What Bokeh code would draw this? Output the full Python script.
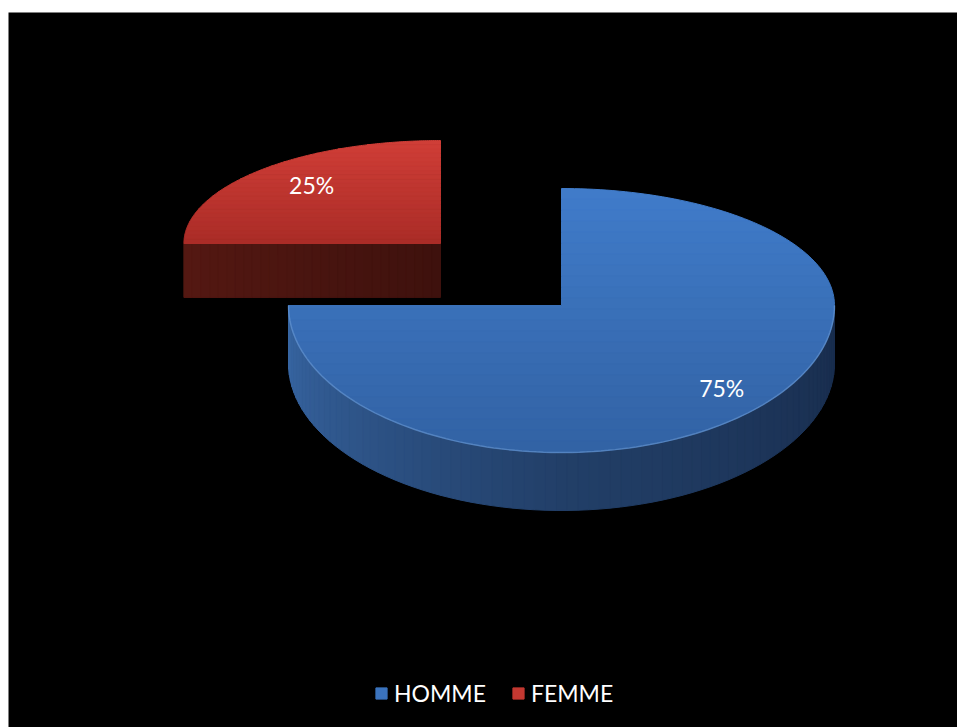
import numpy as np
from bokeh.plotting import figure
from bokeh.models import Range1d, Legend, LegendItem, ColumnDataSource
from bokeh.embed import file_html
from bokeh.resources import INLINE
from bokeh.core.properties import value

# ---------------- data ----------------
categories = ["HOMME", "FEMME"]
values = [75, 25]
exploded = [False, True]

# ---------------- style ----------------
TOP_COLORS = {"HOMME": ((64, 124, 202), (50, 98, 164)),
              "FEMME": ((208, 62, 55), (170, 44, 39))}
SIDE_COLORS = {"HOMME": ((56, 102, 164), (34, 63, 104), (24, 44, 76)),
               "FEMME": ((84, 24, 18), (74, 21, 16), (62, 17, 13))}
RIM_COLORS = {"HOMME": "#6f9fd8", "FEMME": "#e0605a"}

CX, CY = 561, 305          # pie centre (screen px)
RX, RY_BACK, RY_FRONT = 273, 117, 147
DEPTH = 58
EXPLODE_DX, EXPLODE_DY = 121, 62   # offset of an exploded slice along its mid angle
SHRINK = (0.94, 0.88, 0.93)        # perspective shrink of exploded slice (rx, ry, depth)
LABEL_FRAC = {"HOMME": (0.83, 0.79), "FEMME": (0.71, 0.81)}
FONT = "Lato"

W, H = 957, 727
p = figure(width=W, height=H, output_backend="svg", toolbar_location=None,
           x_range=Range1d(8, W), y_range=Range1d(H, 12),
           x_axis_type=None, y_axis_type=None, min_border=0,
           min_border_left=8, min_border_top=12,
           background_fill_color="black", border_fill_color="white",
           outline_line_color=None)
p.grid.visible = False


def mix(c0, c1, f):
    c = [int(round(a + (b - a) * f)) for a, b in zip(c0, c1)]
    return "#%02x%02x%02x" % tuple(c)


def point(theta, cx, cy, rx, ryb, ryf):
    t = np.radians(theta)
    c = np.cos(t)
    ry = np.where(c > 0, ryb, ryf)
    return cx + rx * np.sin(t), cy - ry * c


def clip_half(poly, yc, keep_below):
    out = []
    n = len(poly)
    inside = (lambda q: q[1] >= yc) if keep_below else (lambda q: q[1] <= yc)
    for i in range(n):
        a, b = poly[i], poly[(i + 1) % n]
        ia, ib = inside(a), inside(b)
        if ia:
            out.append(a)
        if ia != ib:
            f = (yc - a[1]) / (b[1] - a[1])
            out.append((a[0] + f * (b[0] - a[0]), yc))
    return out


total = float(sum(values))
start = 0.0
legend_items = []
draw_later = []
for cat, v, ex in zip(categories, values, exploded):
    a0 = start
    a1 = start + 360.0 * v / total
    start = a1
    mid = (a0 + a1) / 2.0
    cx, cy, rx, ryb, ryf, depth = CX, CY, RX, RY_BACK, RY_FRONT, DEPTH
    if ex:
        cx = CX + EXPLODE_DX * np.sign(np.sin(np.radians(mid)))
        cy = CY - EXPLODE_DY * np.sign(np.cos(np.radians(mid)))
        rx, ryb, ryf, depth = RX * SHRINK[0], RY_BACK * SHRINK[1], RY_FRONT * SHRINK[1], DEPTH * SHRINK[2]

    # ---- sides (curved front part) ----
    lo, hi = max(a0, 90.0), min(a1, 270.0)
    side_xs, side_ys, side_cols = [], [], []
    c_l, c_m, c_r = SIDE_COLORS[cat]
    if hi > lo:
        th = np.linspace(lo, hi, 80)
        xs, ys = point(th, cx, cy, rx, ryb, ryf)
        for i in range(len(th) - 1):
            tm = (th[i] + th[i + 1]) / 2
            if tm >= 180:
                col = mix(c_m, c_l, (tm - 180) / 90.0)
            else:
                col = mix(c_r, c_m, (tm - 90) / 90.0)
            side_xs.append([xs[i], xs[i + 1], xs[i + 1], xs[i]])
            side_ys.append([ys[i], ys[i + 1], ys[i + 1] + depth, ys[i] + depth])
            side_cols.append(col)
    # ---- radial faces that face the viewer ----
    for edge, normal in ((a0, a0 - 90.0), (a1, a1 + 90.0)):
        if np.cos(np.radians(normal)) < -0.2:
            ex_, ey_ = point(np.array([edge]), cx, cy, rx, ryb, ryf)
            ex_, ey_ = float(ex_[0]), float(ey_[0])
            nb = 30
            for k in range(nb):
                f0, f1 = k / nb, (k + 1) / nb
                x0 = ex_ + (cx - ex_) * f0
                x1 = ex_ + (cx - ex_) * f1
                y0 = ey_ + (cy - ey_) * f0
                y1 = ey_ + (cy - ey_) * f1
                side_xs.append([x0, x1, x1, x0])
                side_ys.append([y0, y1, y1 + depth, y0 + depth])
                side_cols.append(mix(c_l, c_r, (f0 + f1) / 2))
    if side_xs:
        p.patches(xs=side_xs, ys=side_ys, fill_color=side_cols, line_color=side_cols,
                  line_width=1)

    # ---- top face with vertical gradient ----
    th = np.linspace(a0, a1, 200)
    xs, ys = point(th, cx, cy, rx, ryb, ryf)
    poly = [(cx, cy)] + list(zip(xs.tolist(), ys.tolist()))
    ymin, ymax = min(q[1] for q in poly), max(q[1] for q in poly)
    nb = 24
    top_xs, top_ys, top_cols = [], [], []
    ct, cb = TOP_COLORS[cat]
    for k in range(nb):
        y0 = ymin + (ymax - ymin) * k / nb
        y1 = ymin + (ymax - ymin) * (k + 1) / nb
        band = clip_half(poly, y0, True)
        band = clip_half(band, y1, False) if band else band
        if len(band) >= 3:
            top_xs.append([q[0] for q in band])
            top_ys.append([q[1] for q in band])
            top_cols.append(mix(ct, cb, (k + 0.5) / nb))
    r_top = p.patches(xs=top_xs, ys=top_ys, fill_color=top_cols, line_color=top_cols,
                      line_width=1)

    # rim highlight on the visible front edge of the top face
    if hi > lo:
        th = np.linspace(lo, hi, 120)
        rxs, rys = point(th, cx, cy, rx, ryb, ryf)
        p.line(rxs, rys, line_color=RIM_COLORS[cat], line_alpha=0.55, line_width=1.5)

    # label
    fx, fy = LABEL_FRAC[cat]
    lx, ly = point(np.array([mid]), cx, cy, rx * fx, ryb * fy, ryf * fy)
    draw_later.append((float(lx[0]), float(ly[0]), f"{v}%"))

    legend_items.append(LegendItem(label=cat, renderers=[r_top], index=len(top_cols) // 3))

src = ColumnDataSource(dict(x=[d[0] for d in draw_later], y=[d[1] for d in draw_later],
                            t=[d[2] for d in draw_later]))
p.text(x="x", y="y", text="t", source=src, text_color="white",
       text_font=value(FONT), text_font_size="23px",
       text_align="center", text_baseline="middle")

legend = Legend(items=legend_items, orientation="horizontal", location=(366, 20),
                background_fill_alpha=0, border_line_alpha=0, padding=0, margin=0,
                label_text_color="white", label_text_font=FONT,
                label_text_font_size="23px", glyph_width=14, glyph_height=14,
                label_standoff=6, spacing=25)
p.add_layout(legend)

open("out.html", "w").write(file_html(p, INLINE))
